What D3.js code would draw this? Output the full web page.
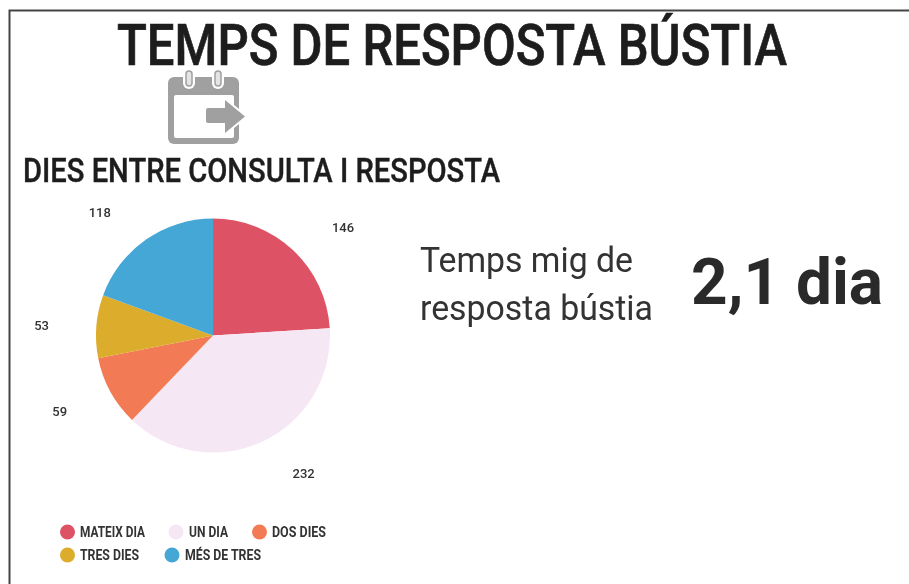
<!DOCTYPE html>
<html><head><meta charset="utf-8">
<script src="https://cdn.jsdelivr.net/npm/d3@7/dist/d3.min.js"></script>
<style>html,body{margin:0;padding:0;background:#fff;overflow:hidden}svg{display:block;filter:blur(.45px)}text{font-family:Roboto,sans-serif}</style>
</head><body><svg id="c" width="909" height="584"></svg>
<script>
const categories=["MATEIX DIA","UN DIA","DOS DIES","TRES DIES","MÉS DE TRES"];
const values=[146,232,59,53,118];
const colors=["#DE5266","#F5E8F4","#F27A55","#DCAC2C","#45A7D5"];
const titleText="TEMPS DE RESPOSTA BÚSTIA";
const subtitleText="DIES ENTRE CONSULTA I RESPOSTA";
const noteLines=["Temps mig de","resposta bústia"];
const bigValue="2,1 dia";

// layout only
const labelNudge=[[15,15],[20,-14],[-6,-4],[-4,3],[-17,15]];
const legendDots=[67.5,176,259.5,67.5,172];
const legendText=[[80,145],[189,228],[272,326],[80,139],[185,261]];
const legendRows=[532,532,532,555,555];
const noteWidths=[213,233];

const svg=d3.select("#c");
svg.append("path").attr("d","M9.5 584V10.5H909").attr("fill","none").attr("stroke","#444").attr("stroke-width",2);

function fitText(t,x,y,size,w,weight,fill){
  return svg.append("text").attr("x",x).attr("y",y).attr("font-size",size).attr("font-weight",weight||400)
   .attr("fill",fill||"#222").attr("textLength",w).attr("lengthAdjust","spacingAndGlyphs").text(t);
}
fitText(titleText,117,65,57,670,500,"#1d1d1d").attr("stroke","#1d1d1d").attr("stroke-width",0.7);
fitText(subtitleText,23,182,33,477,500,"#1d1d1d").attr("stroke","#1d1d1d").attr("stroke-width",0.4);

// calendar icon
const ic=svg.append("g");
const gray="#A0A0A0";
ic.append("rect").attr("x",168).attr("y",77).attr("width",71).attr("height",67).attr("rx",6).attr("fill",gray);
ic.append("rect").attr("x",174).attr("y",95).attr("width",60).attr("height",43).attr("rx",2).attr("fill","#fff");
ic.selectAll("rect.ringBack").data([183,212]).join("rect").attr("class","ringBack")
  .attr("x",d=>d).attr("y",69).attr("width",12).attr("height",20).attr("rx",6).attr("fill","#fff");
ic.selectAll("rect.ring").data([186,215]).join("rect").attr("class","ring")
  .attr("x",d=>d).attr("y",71).attr("width",6).attr("height",15).attr("rx",3)
  .attr("fill","#E4E4E4").attr("stroke",gray).attr("stroke-width",1.5);
ic.append("path").attr("fill",gray).attr("stroke","#fff").attr("stroke-width",4).attr("paint-order","stroke").attr("stroke-linejoin","round")
  .attr("d","M208 108H225V100L245 116.5L225 133V123H208Q206 123 206 121V110Q206 108 208 108Z");

// pie
const cx=213,cy=335.5,R=117,labelR=168;
const pie=d3.pie().sort(null)(values);
const arc=d3.arc().innerRadius(0).outerRadius(R);
const lab=d3.arc().innerRadius(labelR).outerRadius(labelR);
const g=svg.append("g").attr("transform",`translate(${cx},${cy})`);
g.selectAll("path").data(pie).join("path").attr("d",arc).attr("fill",(d,i)=>colors[i]);
g.selectAll("text").data(pie).join("text")
 .attr("x",(d,i)=>lab.centroid(d)[0]+labelNudge[i][0]).attr("y",(d,i)=>lab.centroid(d)[1]+labelNudge[i][1]+4)
 .attr("text-anchor","middle").attr("font-size",13).attr("font-weight",500).attr("fill","#333").text(d=>d.data);

// legend
const lg=svg.append("g");
categories.forEach((c,i)=>{
  const y=legendRows[i],[x,end]=legendText[i];
  lg.append("circle").attr("cx",legendDots[i]).attr("cy",y).attr("r",7.5).attr("fill",colors[i]);
  lg.append("text").attr("x",x).attr("y",y+5).attr("font-size",14).attr("font-weight",700).attr("fill","#333")
    .attr("textLength",end-x).attr("lengthAdjust","spacingAndGlyphs").text(c);
});

// note
noteLines.forEach((t,i)=>{
  svg.append("text").attr("x",420).attr("y",272+48*i).attr("font-size",34.5).attr("fill","#333")
    .attr("textLength",noteWidths[i]).attr("lengthAdjust","spacingAndGlyphs").text(t);
});
svg.append("text").attr("x",691).attr("y",304).attr("font-size",64).attr("font-weight",700).attr("fill","#2a2a2a")
  .attr("textLength",192).attr("lengthAdjust","spacingAndGlyphs").text(bigValue);
</script></body></html>
